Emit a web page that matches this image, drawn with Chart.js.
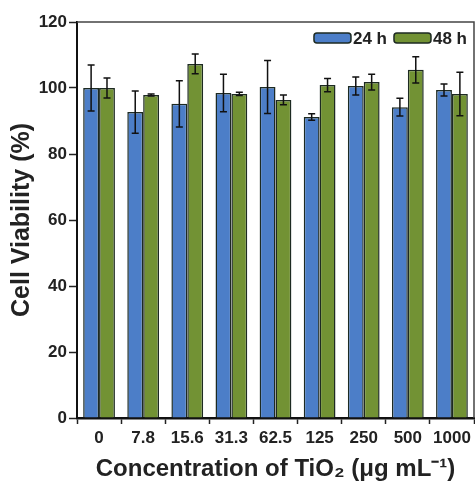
<!DOCTYPE html>
<html>
<head>
<meta charset="utf-8">
<script src="https://cdn.jsdelivr.net/npm/chart.js@4"></script>
<style>
  html, body { margin: 0; padding: 0; background: #fff; }
  #wrap { width: 475px; height: 486px; }
</style>
</head>
<body>
<div id="wrap"><canvas id="myChart" width="475" height="486"></canvas></div>
<script>
// data
const concentrations = ['0', '7.8', '15.6', '31.3', '62.5', '125', '250', '500', '1000'];
const viability24 = [100.0, 92.7, 95.2, 98.5, 100.3, 91.2, 100.6, 94.2, 99.4];
const error24 = [7.0, 6.4, 7.0, 5.7, 8.0, 1.0, 2.7, 2.7, 1.8];
const viability48 = [100.0, 97.9, 107.3, 98.2, 96.4, 100.9, 101.8, 105.5, 98.2];
const error48 = [3.0, 0.3, 3.0, 0.5, 1.5, 2.0, 2.4, 4.0, 6.6];
const yTicks = [0, 20, 40, 60, 80, 100, 120];

const FONT = "'Liberation Sans', Arial, sans-serif";
const INK = '#222';

// error bars drawn through the y scale
const errorBars = {
  id: 'errorBars',
  afterDatasetsDraw(chart) {
    const ctx = chart.ctx;
    const y = chart.scales.y;
    const errs = [error24, error48];
    const vals = [viability24, viability48];
    ctx.save();
    ctx.strokeStyle = '#111';
    ctx.lineWidth = 1.5;
    chart.data.datasets.forEach((ds, i) => {
      const meta = chart.getDatasetMeta(i);
      meta.data.forEach((bar, j) => {
        const top = y.getPixelForValue(vals[i][j] + errs[i][j]);
        const bot = y.getPixelForValue(vals[i][j] - errs[i][j]);
        const cap = 3.5;
        ctx.beginPath();
        ctx.moveTo(bar.x, top); ctx.lineTo(bar.x, bot);
        ctx.moveTo(bar.x - cap, top); ctx.lineTo(bar.x + cap, top);
        ctx.moveTo(bar.x - cap, bot); ctx.lineTo(bar.x + cap, bot);
        ctx.stroke();
      });
    });
    ctx.restore();
  }
};

// top and right frame lines
const frame = {
  id: 'frame',
  beforeDatasetsDraw(chart) {
    const { ctx, chartArea: a } = chart;
    ctx.save();
    ctx.strokeStyle = '#444';
    ctx.lineWidth = 1.5;
    ctx.beginPath();
    ctx.moveTo(a.left, a.top); ctx.lineTo(a.right, a.top); ctx.lineTo(a.right, a.bottom);
    ctx.stroke();
    ctx.restore();
  }
};

// legend in the top-right corner of the plot
const cornerLegend = {
  id: 'cornerLegend',
  afterDraw(chart) {
    const { ctx, chartArea: a } = chart;
    const cy = a.top + 16;
    let x = a.right - 7;
    ctx.save();
    ctx.font = 'bold 17px ' + FONT;
    ctx.textBaseline = 'middle';
    const items = chart.data.datasets.slice().reverse();
    items.forEach(ds => {
      const w = ctx.measureText(ds.label).width;
      ctx.fillStyle = INK;
      ctx.textAlign = 'right';
      ctx.fillText(ds.label, x, cy + 1);
      x -= w + 2;
      ctx.fillStyle = ds.backgroundColor;
      ctx.strokeStyle = '#1d2a22';
      ctx.lineWidth = 1.5;
      ctx.beginPath();
      ctx.roundRect(x - 37, cy - 5, 37, 10, 3);
      ctx.fill();
      ctx.stroke();
      x -= 37 + 7;
    });
    ctx.restore();
  }
};

const data = {
  labels: concentrations,
  datasets: [
    {
      label: '24 h',
      data: viability24,
      backgroundColor: 'rgb(76, 126, 200)',
      borderColor: '#1d2a22',
      borderWidth: 1.5,
    },
    {
      label: '48 h',
      data: viability48,
      backgroundColor: 'rgb(114, 146, 52)',
      borderColor: '#1d2a22',
      borderWidth: 1.5,
    }
  ]
};

const config = {
  type: 'bar',
  data,
  options: {
    responsive: false,
    animation: false,
    datasets: { bar: { categoryPercentage: 0.72, barPercentage: 1.0 } },
    layout: { padding: { top: 22, right: 1, left: 0, bottom: 0 } },
    scales: {
      x: {
        afterFit: s => { s.height = 68; },
        grid: { display: true, drawOnChartArea: false, offset: true, color: '#222', tickLength: 6, tickWidth: 1.5 },
        border: { color: '#111', width: 2.5 },
        ticks: { color: INK, font: { family: FONT, size: 17, weight: 'bold' }, padding: 4, maxRotation: 0, autoSkip: false },
        title: {
          display: true,
          text: 'Concentration of TiO\u2082 (\u03bcg mL\u207b\u00b9)',
          color: INK,
          font: { family: FONT, size: 24, weight: 'bold' },
          padding: { top: 0, bottom: 2 }
        }
      },
      y: {
        min: 0,
        max: 120,
        afterFit: s => { s.width = 77; },
        afterBuildTicks: s => { s.ticks = yTicks.map(v => ({ value: v })); },
        grid: { display: true, drawOnChartArea: false, color: '#222', tickLength: 8, tickWidth: 1.5 },
        border: { color: '#111', width: 2 },
        ticks: { color: INK, font: { family: FONT, size: 17, weight: 'bold' }, padding: 2 },
        title: {
          display: true,
          text: 'Cell Viability (%)',
          color: INK,
          font: { family: FONT, size: 25, weight: 'bold' },
          padding: { top: 7, bottom: 0 }
        }
      }
    },
    plugins: {
      legend: { display: false },
      tooltip: { enabled: false }
    }
  },
  plugins: [frame, errorBars, cornerLegend]
};

const myChart = new Chart(document.getElementById('myChart'), config);
</script>
</body>
</html>
